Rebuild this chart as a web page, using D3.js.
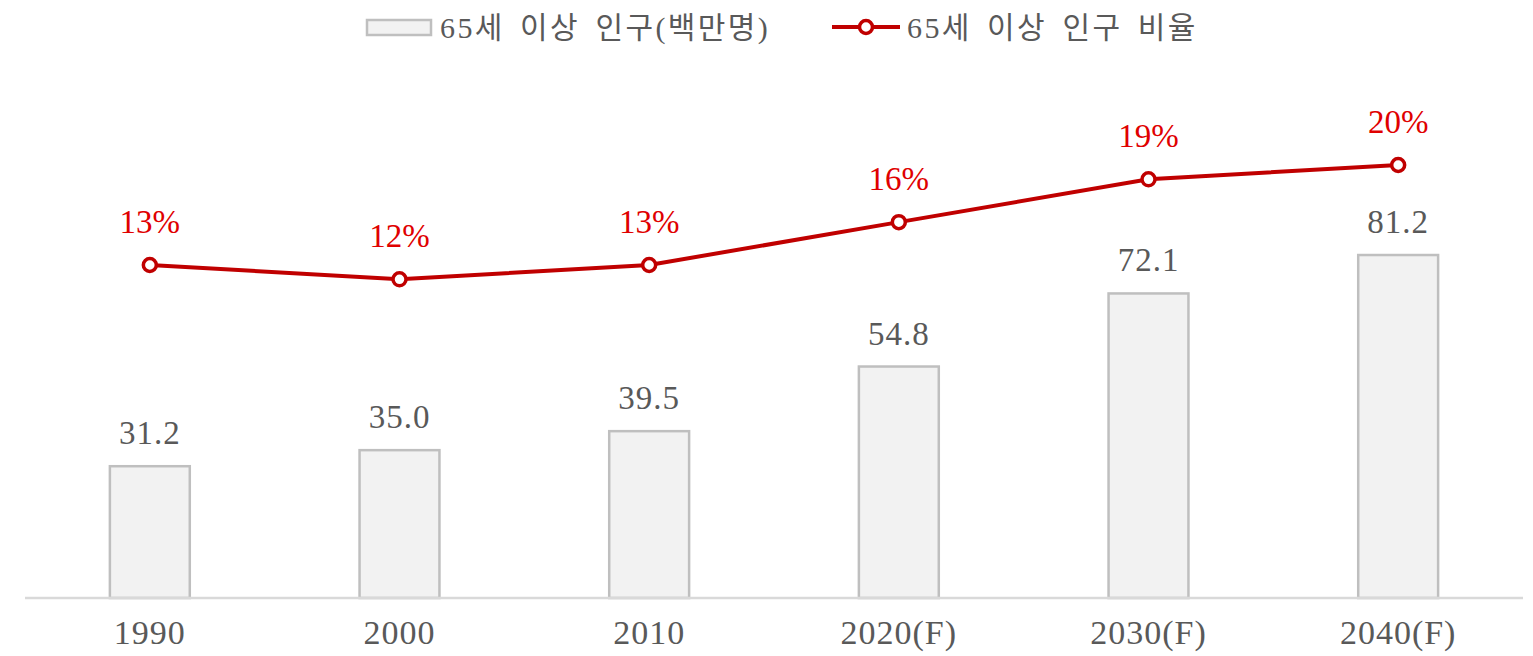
<!DOCTYPE html>
<html><head><meta charset="utf-8">
<script src="https://cdn.jsdelivr.net/npm/d3@7"></script>
<style>html,body{margin:0;padding:0;background:#fff;overflow:hidden}</style>
</head><body>
<svg id="c" width="1533" height="656"></svg>
<script>
const categories = ["1990","2000","2010","2020(F)","2030(F)","2040(F)"];
const population = [31.2, 35.0, 39.5, 54.8, 72.1, 81.2];
const ratio = [0.13, 0.12, 0.13, 0.16, 0.19, 0.20];
const ratioLabels = ["13%","12%","13%","16%","19%","20%"];
const legendLabels = ["65세 이상 인구(백만명)", "65세 이상 인구 비율"];

const svg = d3.select("#c");
const serif = "'Liberation Serif','Noto Sans CJK KR',serif";
const kfont = "'Liberation Serif','Noto Sans CJK KR',sans-serif";
const grey = "#595959";
const red = "#c00000";

const x = d3.scaleBand().domain(categories).range([25, 1523]).paddingInner(0.68).paddingOuter(0.34);
const y = d3.scaleLinear().domain([0, 90]).range([598, 598 - 90 * 4.224]);
const y2 = d3.scaleLinear().domain([0, 0.2]).range([450.7, 165]);

// bars
svg.append("g").selectAll("rect").data(categories).join("rect")
  .attr("x", d => x(d)).attr("width", x.bandwidth())
  .attr("y", (d,i) => y(population[i])).attr("height", (d,i) => y(0) - y(population[i]))
  .attr("fill", "#f2f2f2").attr("stroke", "#bfbfbf").attr("stroke-width", 2.5);

// axis
const ax = svg.append("g").attr("transform", `translate(0,${y(0)})`)
  .call(d3.axisBottom(x).tickSize(0).tickPadding(0));
ax.select(".domain").attr("stroke", "#d9d9d9").attr("stroke-width", 2.5).attr("d", "M25,0H1523");
ax.selectAll(".tick text").attr("y", 46).attr("dy", 0)
  .attr("font-family", serif).attr("font-size", 34).attr("letter-spacing", 1).attr("fill", grey);

// value labels
svg.append("g").selectAll("text").data(categories).join("text")
  .attr("x", d => x(d) + x.bandwidth()/2).attr("y", (d,i) => y(population[i]) - 22)
  .attr("text-anchor", "middle").attr("font-family", serif).attr("font-size", 33)
  .attr("letter-spacing", 1).attr("fill", grey)
  .text((d,i) => population[i].toFixed(1));

// line
const line = d3.line().x((d,i) => x(categories[i]) + x.bandwidth()/2).y(d => y2(d));
svg.append("path").datum(ratio).attr("d", line).attr("fill", "none")
  .attr("stroke", red).attr("stroke-width", 4);
svg.append("g").selectAll("circle").data(ratio).join("circle")
  .attr("cx", (d,i) => x(categories[i]) + x.bandwidth()/2).attr("cy", d => y2(d))
  .attr("r", 6.5).attr("fill", "#fff").attr("stroke", red).attr("stroke-width", 3.5);
svg.append("g").selectAll("text").data(ratio).join("text")
  .attr("x", (d,i) => x(categories[i]) + x.bandwidth()/2).attr("y", d => y2(d) - 32)
  .attr("text-anchor", "middle").attr("font-family", serif).attr("font-size", 33).attr("fill", "#e00000")
  .text((d,i) => ratioLabels[i]);

// legend
const lg = svg.append("g");
lg.append("rect").attr("x", 367).attr("y", 20).attr("width", 64).attr("height", 15)
  .attr("fill", "#f2f2f2").attr("stroke", "#bfbfbf").attr("stroke-width", 2.5);
lg.append("text").attr("x", 440).attr("y", 38).attr("font-family", kfont).attr("font-size", 30)
  .attr("letter-spacing", 2.4).attr("word-spacing", 5.4)
  .attr("fill", grey).text(legendLabels[0]);
lg.append("line").attr("x1", 832).attr("x2", 900).attr("y1", 27).attr("y2", 27)
  .attr("stroke", red).attr("stroke-width", 4);
lg.append("circle").attr("cx", 866).attr("cy", 27).attr("r", 6.5)
  .attr("fill", "#fff").attr("stroke", red).attr("stroke-width", 3.5);
lg.append("text").attr("x", 907).attr("y", 38).attr("font-family", kfont).attr("font-size", 30)
  .attr("letter-spacing", 2.4).attr("word-spacing", 5.4)
  .attr("fill", grey).text(legendLabels[1]);
</script>
</body></html>
